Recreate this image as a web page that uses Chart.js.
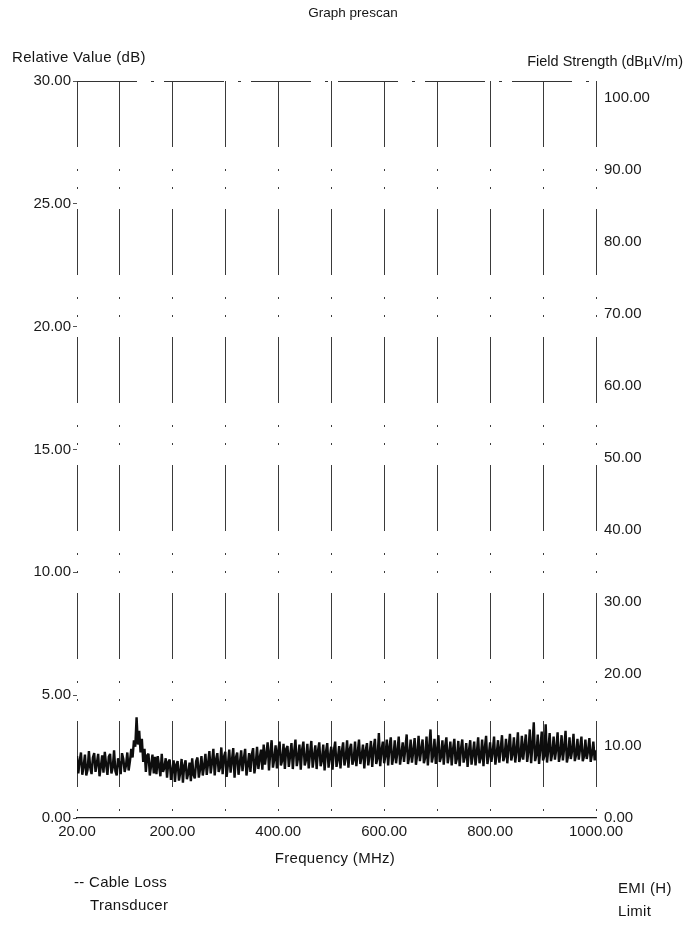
<!DOCTYPE html>
<html><head><meta charset="utf-8">
<script src="https://cdn.jsdelivr.net/npm/chart.js@4.4.0/dist/chart.umd.min.js"></script>
<style>
html,body{margin:0;padding:0;background:#fff;}
#wrap{position:relative;width:686px;height:930px;font-family:"Liberation Sans",Arial,sans-serif;color:#151515;overflow:hidden;}
canvas{position:absolute;left:0;top:0;}
.t{position:absolute;white-space:nowrap;font-size:15px;line-height:17px;letter-spacing:0.3px;}
</style></head><body>
<div id="wrap">
<canvas id="c" width="686" height="930"></canvas>
<div class="t" style="left:10px;width:686px;text-align:center;top:4px;font-size:13.5px;letter-spacing:0">Graph prescan</div>
<div class="t" style="left:12px;top:48px">Relative Value (dB)</div>
<div class="t" style="right:3px;top:53px;font-size:14.5px;letter-spacing:0">Field Strength (dBµV/m)</div>
<div class="t" style="left:0;width:670px;text-align:center;top:849px">Frequency (MHz)</div>
<div class="t" style="left:74px;top:873px">-- Cable Loss</div>
<div class="t" style="left:90px;top:896px">Transducer</div>
<div class="t" style="left:618px;top:879px">EMI (H)</div>
<div class="t" style="left:618px;top:902px">Limit</div>
</div>
<script>
// ---- data ----
const freqStartMHz = 20;
const freqStepMHz = 2.5;
// EMI (H) prescan trace, field strength in dBµV/m, one reading per 2.5 MHz from 20 to 1000 MHz (20 per row = 50 MHz)
const emiH = [
  8.6,6.2,7.9,9.1,6.0,7.2,8.8,5.9,6.7,9.3,7.0,6.1,8.4,9.0,6.4,7.6,8.9,5.8,7.1,8.7,
  6.3,9.2,7.4,6.0,8.5,8.9,6.2,7.0,9.4,6.5,5.9,8.3,7.7,6.1,9.0,8.2,6.4,7.3,9.1,6.6,
  7.9,9.6,8.4,10.8,9.9,14.0,10.2,12.1,9.1,11.0,7.8,9.6,6.4,8.7,8.9,5.9,7.3,8.8,6.2,8.5,
  6.1,8.6,7.2,5.8,8.9,6.4,7.0,8.3,5.6,7.8,8.1,5.3,6.6,8.0,5.0,7.4,7.9,5.2,6.3,8.2,
  4.9,7.3,8.0,5.4,6.2,7.7,5.1,8.3,6.0,5.5,7.9,8.4,5.6,6.8,8.6,5.9,7.2,8.9,6.0,7.6,
  9.3,6.2,7.8,9.6,5.9,8.1,9.0,6.4,7.0,9.8,6.1,8.5,9.2,5.7,7.4,9.5,6.3,8.0,9.7,5.6,
  8.4,9.1,6.0,7.6,9.4,6.5,8.2,9.6,5.9,7.3,9.0,6.4,8.8,9.7,6.2,7.5,9.9,6.8,8.3,9.5,
  6.7,10.2,7.4,8.9,10.5,6.6,9.1,10.8,7.0,8.2,10.1,6.9,9.4,10.6,7.3,8.0,10.3,6.8,9.6,10.0,
  7.1,8.7,10.4,6.8,9.2,10.9,7.2,8.4,10.2,6.7,9.5,10.6,7.3,8.1,10.3,6.9,9.0,10.7,7.0,8.6,
  10.1,6.8,9.3,10.5,7.2,8.0,10.2,6.6,9.1,10.4,7.0,8.5,9.9,6.7,9.4,10.6,7.1,8.2,10.0,6.9,
  9.2,10.5,7.3,8.4,10.8,7.0,9.5,10.3,7.4,8.1,10.6,7.2,9.0,10.9,7.5,8.6,10.2,6.9,9.3,10.4,
  7.3,8.8,10.7,7.1,9.6,11.0,7.5,8.3,11.8,7.2,9.4,10.6,7.6,8.7,10.9,7.3,9.8,11.2,7.4,8.5,
  10.8,7.6,9.2,11.3,7.4,8.9,10.5,7.8,9.7,11.6,7.5,8.6,10.9,7.7,9.3,11.1,7.4,8.8,11.4,7.9,
  9.5,10.9,7.6,8.4,11.3,7.3,9.8,12.3,7.7,8.7,11.0,7.5,9.4,11.5,7.8,8.5,10.8,7.4,9.9,11.2,
  7.6,8.8,10.6,7.3,9.5,11.0,7.5,8.3,10.7,7.2,9.6,10.9,7.7,8.6,10.4,7.1,9.3,10.8,7.4,8.9,
  10.6,7.3,9.1,11.2,7.6,8.4,10.9,7.2,9.7,11.4,7.5,8.7,10.5,7.8,9.2,11.3,7.4,8.9,10.8,7.7,
  9.6,11.5,7.9,8.6,11.0,7.6,9.8,11.7,8.0,8.9,11.2,7.7,9.4,11.9,7.8,8.5,11.4,8.1,9.9,11.6,
  7.8,9.3,12.3,7.6,10.1,13.3,7.9,8.8,11.6,7.5,9.7,12.0,8.0,8.6,13.0,7.7,9.5,11.8,7.9,9.0,
  11.3,8.1,9.6,11.9,7.8,8.9,11.5,8.0,9.8,12.1,7.7,8.7,11.2,8.2,9.4,11.7,7.9,8.8,11.0,8.1,
  9.7,11.3,7.9,8.6,10.9,8.2,9.3,11.1,7.8,8.9,10.6,8.0,9.4
];
const gridFreqs = [20,100,200,300,400,500,600,700,800,900,1000];
const freqTickLabels = [20,200,400,600,800,1000];
const relTicks = [0,5,10,15,20,25,30];
const fieldTicks = [0,10,20,30,40,50,60,70,80,90,100];

// ---- chart ----
const pts = emiH.map((v,i)=>({x: freqStartMHz + i*freqStepMHz, y: v}));
const ink = '#1a1a1a';
const tickFont = {family:'"Liberation Sans", Arial, sans-serif', size:15};

new Chart(document.getElementById('c'), {
  type:'line',
  data:{datasets:[{
    label:'EMI (H)', data:pts, yAxisID:'y2',
    borderColor:'#0d0d0d', borderWidth:2.4, borderJoinStyle:'bevel', pointRadius:0, tension:0, fill:false
  }]},
  options:{
    responsive:false, animation:false, devicePixelRatio:1,
    layout:{padding:{top:81,left:0,right:0,bottom:0}},
    plugins:{legend:{display:false}, tooltip:{enabled:false}},
    scales:{
      x:{type:'linear', min:20, max:1000,
        afterBuildTicks:s=>{s.ticks = gridFreqs.map(v=>({value:v}));},
        afterFit:s=>{s.height = 112;},
        ticks:{autoSkip:false, maxRotation:0, padding:5, color:ink, font:tickFont,
          callback:v=>freqTickLabels.includes(v) ? v.toFixed(2) : ''},
        grid:{color:'#3a3a3a', lineWidth:1, drawTicks:false},
        border:{display:true, color:ink, width:1.2, dash:[66,22,2,16,2,20]}
      },
      y:{position:'left', min:0, max:30,
        afterBuildTicks:s=>{s.ticks = relTicks.map(v=>({value:v}));},
        afterFit:s=>{s.width = 77;},
        ticks:{padding:2, color:ink, font:tickFont, callback:v=>v.toFixed(2)},
        grid:{color:c=>c.tick && c.tick.value===30 ? '#333' : 'rgba(0,0,0,0)', tickColor:'#555', tickLength:4, lineWidth:1},
        border:{display:false, dash:[60,14,3,10]}
      },
      y2:{position:'right', min:0, max:102.36,
        afterBuildTicks:s=>{s.ticks = fieldTicks.map(v=>({value:v}));},
        afterFit:s=>{s.width = 90;},
        ticks:{padding:8, color:ink, font:tickFont, callback:v=>v.toFixed(2)},
        grid:{display:false, drawTicks:false},
        border:{display:false}
      }
    }
  }
});
</script>
</body></html>
